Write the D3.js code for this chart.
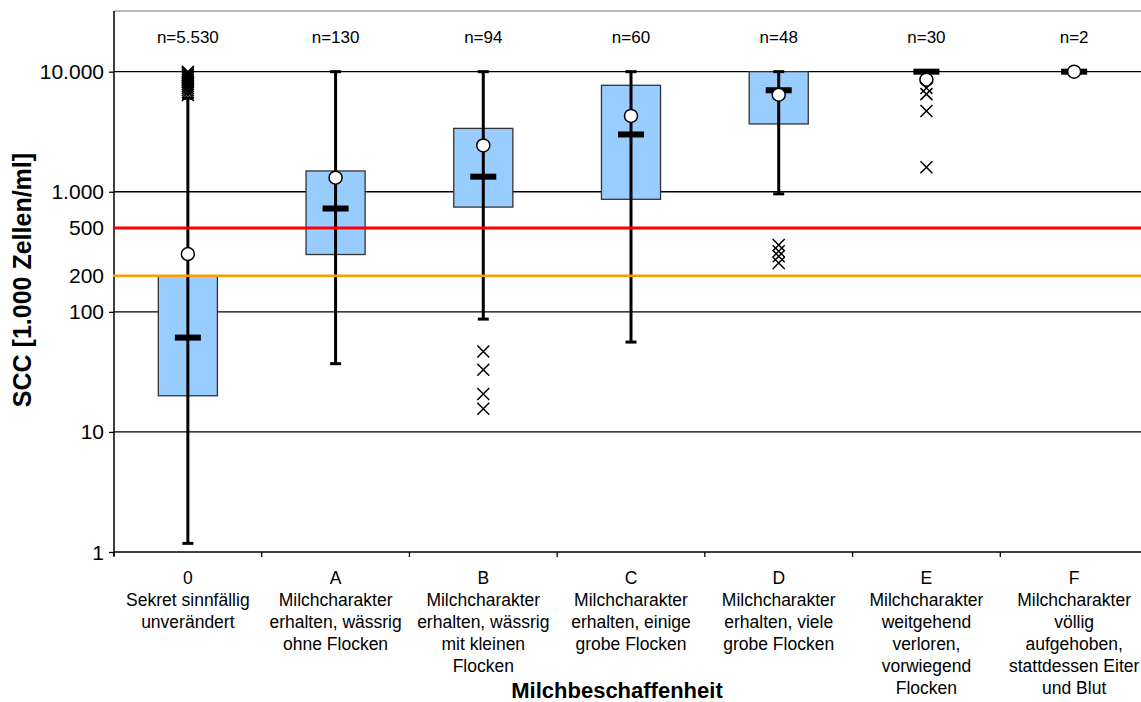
<!DOCTYPE html>
<html>
<head>
<meta charset="utf-8">
<script src="https://cdn.jsdelivr.net/npm/d3@7/dist/d3.min.js"></script>
<style>
  html, body { margin: 0; padding: 0; background: #fff; }
  svg { display: block; font-family: "Liberation Sans", Arial, sans-serif; }
</style>
</head>
<body>
<svg id="chart" width="1141" height="702"></svg>
<script>
// Milk appearance categories (Milchbeschaffenheit)
const categories = ["0", "A", "B", "C", "D", "E", "F"];
const categoryLabels = [
  ["0", "Sekret sinnfällig", "unverändert"],
  ["A", "Milchcharakter", "erhalten, wässrig", "ohne Flocken"],
  ["B", "Milchcharakter", "erhalten, wässrig", "mit kleinen", "Flocken"],
  ["C", "Milchcharakter", "erhalten, einige", "grobe Flocken"],
  ["D", "Milchcharakter", "erhalten, viele", "grobe Flocken"],
  ["E", "Milchcharakter", "weitgehend", "verloren,", "vorwiegend", "Flocken"],
  ["F", "Milchcharakter", "völlig", "aufgehoben,", "stattdessen Eiter", "und Blut"]
];
const sampleSizes = ["n=5.530", "n=130", "n=94", "n=60", "n=48", "n=30", "n=2"];

// SCC statistics in 1.000 cells/ml
const whiskerLow  = [1.18, 37, 87, 56, 960, 10000, 10000];
const quartile1   = [20, 300, 745, 865, 3670, 10000, 10000];
const medians     = [61, 725, 1335, 3000, 7000, 10000, 10000];
const quartile3   = [200, 1490, 3370, 7700, 10000, 10000, 10000];
const whiskerHigh = [6000, 10000, 10000, 10000, 10000, 10000, 10000];
const means       = [303, 1310, 2430, 4280, 6430, 8580, 10000];
const outliers0 = [10000, 9700, 9400, 9100, 8800, 8500, 8200, 7900, 7600, 7300, 7000, 6700, 6400];
const outliersA = [];
const outliersB = [46.7, 32.9, 20.7, 15.6];
const outliersC = [];
const outliersD = [360, 320, 290, 255];
const outliersE = [7300, 6500, 4700, 1600];
const outliersF = [];
const outlierSets = [outliers0, outliersA, outliersB, outliersC, outliersD, outliersE, outliersF];

// Y axis ticks and thresholds
const yTickValues = [1, 10, 100, 200, 500, 1000, 10000];
const yTickLabels = ["1", "10", "100", "200", "500", "1.000", "10.000"];
const gridValues = [10, 100, 1000, 10000];
const axisTickValues = [1, 10, 100, 1000, 10000];
const thresholdValues = [200, 500];
const thresholdColors = ["#ff9900", "#ff0000"];

const W = 1141, H = 702;
const plotLeft = 114, plotTop = 11, plotBottom = 552, bandRight = 1148;
const svg = d3.select("#chart");

const x = d3.scaleBand().domain(categories).range([plotLeft, bandRight]).padding(0);
const y = d3.scaleLog().domain([1, 32000]).range([plotBottom, plotTop]);
const cx = c => x(c) + x.bandwidth() / 2;
const boxW = x.bandwidth() * 0.4;

const rows = categories.map((c, i) => ({
  c, lo: whiskerLow[i], q1: quartile1[i], med: medians[i], q3: quartile3[i],
  hi: whiskerHigh[i], mean: means[i], out: outlierSets[i]
}));

// Top frame line
svg.append("line")
  .attr("x1", plotLeft).attr("x2", W).attr("y1", plotTop).attr("y2", plotTop)
  .attr("stroke", "#a0a0a0").attr("stroke-width", 1.5);

// Horizontal gridlines
svg.append("g").selectAll("line").data(gridValues).join("line")
  .attr("x1", plotLeft).attr("x2", W)
  .attr("y1", d => y(d)).attr("y2", d => y(d))
  .attr("stroke", "#000").attr("stroke-width", 1.3);

// Y axis
const yAxis = d3.axisLeft(y).tickValues(axisTickValues).tickSize(5).tickFormat("");
const gy = svg.append("g").attr("transform", `translate(${plotLeft},0)`).call(yAxis);
gy.select(".domain").remove();
gy.selectAll(".tick line").attr("stroke", "#000").attr("stroke-width", 1.3);
svg.append("line")
  .attr("x1", plotLeft).attr("x2", plotLeft).attr("y1", plotTop).attr("y2", plotBottom + 4)
  .attr("stroke", "#000").attr("stroke-width", 1.5);

svg.append("g").selectAll("text").data(yTickValues).join("text")
  .attr("x", 104).attr("y", d => y(d)).attr("dy", "0.36em")
  .attr("text-anchor", "end").attr("font-size", 21).attr("fill", "#000")
  .text((d, i) => yTickLabels[i]);

// X axis with ticks at category boundaries
const bounds = categories.map(c => x(c)).concat([bandRight]);
svg.append("line")
  .attr("x1", plotLeft).attr("x2", W).attr("y1", plotBottom).attr("y2", plotBottom)
  .attr("stroke", "#000").attr("stroke-width", 1.5);
svg.append("g").selectAll("line").data(bounds).join("line")
  .attr("x1", d => d).attr("x2", d => d).attr("y1", plotBottom).attr("y2", plotBottom + 5)
  .attr("stroke", "#000").attr("stroke-width", 1.3);

// Boxes
const g = svg.append("g");
g.selectAll("rect.box").data(rows.filter(r => r.q3 > r.q1)).join("rect")
  .attr("class", "box")
  .attr("x", r => cx(r.c) - boxW / 2).attr("width", boxW)
  .attr("y", r => y(r.q3)).attr("height", r => y(r.q1) - y(r.q3))
  .attr("fill", "#99ccff").attr("stroke", "#333").attr("stroke-width", 1.3);

// Whiskers
g.selectAll("line.whisker").data(rows.filter(r => r.hi > r.lo)).join("line")
  .attr("class", "whisker")
  .attr("x1", r => cx(r.c)).attr("x2", r => cx(r.c))
  .attr("y1", r => y(r.lo)).attr("y2", r => y(r.hi))
  .attr("stroke", "#000").attr("stroke-width", 3);
const caps = [];
rows.forEach(r => { caps.push({ c: r.c, v: r.lo }); caps.push({ c: r.c, v: r.hi }); });
g.selectAll("line.cap").data(caps).join("line")
  .attr("class", "cap")
  .attr("x1", d => cx(d.c) - 5.5).attr("x2", d => cx(d.c) + 5.5)
  .attr("y1", d => y(d.v)).attr("y2", d => y(d.v))
  .attr("stroke", "#000").attr("stroke-width", 3);

// Threshold lines (200 and 500)
svg.append("g").selectAll("line").data(thresholdValues).join("line")
  .attr("x1", plotLeft - 1).attr("x2", W)
  .attr("y1", d => y(d)).attr("y2", d => y(d))
  .attr("stroke", (d, i) => thresholdColors[i])
  .attr("stroke-width", (d, i) => i === 1 ? 3 : 2.5);

// Medians
const m = svg.append("g");
m.selectAll("rect").data(rows).join("rect")
  .attr("x", r => cx(r.c) - 13).attr("width", 26)
  .attr("y", r => y(r.med) - 3).attr("height", 6)
  .attr("fill", "#000");

// Means
m.selectAll("circle").data(rows).join("circle")
  .attr("cx", r => cx(r.c)).attr("cy", r => y(r.mean)).attr("r", 6.5)
  .attr("fill", "#fff").attr("stroke", "#000").attr("stroke-width", 1.5);

// Outliers as X markers
const pts = [];
rows.forEach(r => r.out.forEach(v => pts.push({ c: r.c, v })));
const s = 6;
svg.append("g").selectAll("path").data(pts).join("path")
  .attr("d", d => {
    const px = cx(d.c), py = y(d.v);
    return `M${px - s},${py - s}L${px + s},${py + s}M${px - s},${py + s}L${px + s},${py - s}`;
  })
  .attr("stroke", "#000").attr("stroke-width", 1.5).attr("fill", "none");

// Sample sizes
svg.append("g").selectAll("text").data(categories).join("text")
  .attr("x", c => cx(c)).attr("y", 37).attr("dy", "0.35em")
  .attr("text-anchor", "middle").attr("font-size", 17)
  .text((c, i) => sampleSizes[i]);

// Category labels
const lab = svg.append("g").selectAll("text").data(categories).join("text")
  .attr("text-anchor", "middle").attr("font-size", 17.5);
lab.each(function (c, i) {
  d3.select(this).selectAll("tspan").data(categoryLabels[i]).join("tspan")
    .attr("x", cx(c)).attr("y", (d, j) => 578 + j * 22).attr("dy", "0.35em")
    .text(d => d);
});

// Axis titles
svg.append("text")
  .attr("x", 617).attr("y", 698)
  .attr("text-anchor", "middle").attr("font-size", 22).attr("font-weight", "bold")
  .text("Milchbeschaffenheit");
svg.append("text")
  .attr("transform", "translate(31,280) rotate(-90)")
  .attr("text-anchor", "middle").attr("font-size", 25).attr("font-weight", "bold")
  .text("SCC [1.000 Zellen/ml]");
</script>
</body>
</html>
